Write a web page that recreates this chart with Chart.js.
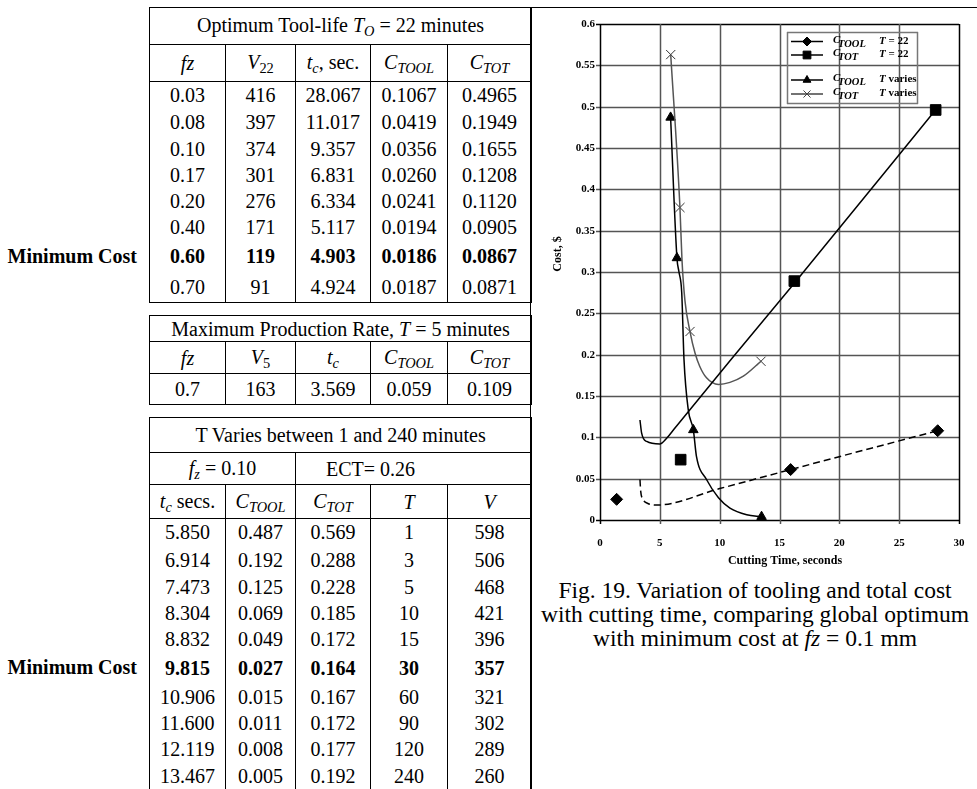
<!DOCTYPE html>
<html>
<head>
<meta charset="utf-8">
<title>Fig. 19 - tooling and total cost vs cutting time</title>
<script src="https://cdn.jsdelivr.net/npm/chart.js@4.4.1/dist/chart.umd.min.js"></script>
<style>
  html { margin: 0; padding: 0; width: 977px; height: 789px; overflow: hidden; background: #fff; }
  body { margin: 0; padding: 0; position: relative; width: 977px; height: 789px; overflow: hidden;
         font-family: "Liberation Serif", "Times New Roman", serif; color: #000; background: #fff; }
  .frame { position: absolute; left: 530px; top: 7px; width: 447px; height: 782px;
           border-top: 1px solid #000; border-left: 1px solid #000; box-sizing: border-box; }
  table.data { position: absolute; left: 149px; width: 382px; border-collapse: collapse;
               table-layout: fixed; font-size: 20px; border: 1px solid #000; }
  table.data td { padding: 0; text-align: center; vertical-align: middle; white-space: nowrap;
                  line-height: 20px; border-left: 1px solid #000; border-right: 1px solid #000; }
  table.data tr.ruled td { border-bottom: 1px solid #000; }
  table.data tr.bold td { font-weight: bold; }
  .s { font-size: 0.72em; position: relative; top: 0.3em; }
  .mincost { position: absolute; left: 0; width: 137px; text-align: right; font-weight: bold;
             font-size: 20px; line-height: 20px; }
  #chartBox { position: absolute; left: 531px; top: 8px; width: 446px; height: 560px; z-index: 5; }
  .caption { position: absolute; left: 533px; width: 444px; top: 578px; text-align: center;
             font-size: 23.5px; line-height: 24px; white-space: nowrap; }
</style>
</head>
<body>

<div class="frame"></div>
<div id="chartBox"><canvas id="costChart" width="446" height="560"></canvas></div>

<table class="data" id="t1" style="top:7px"></table>
<table class="data" id="t2" style="top:315px"></table>
<table class="data" id="t3" style="top:417px; border-bottom:none"></table>

<div class="mincost" style="top:246px">Minimum Cost</div>
<div class="mincost" style="top:657px">Minimum Cost</div>

<div class="caption">Fig. 19. Variation of tooling and total cost<br>with cutting time, comparing global optimum<br>with minimum cost at <i>fz</i> = 0.1 mm</div>

<script>
// ---------- Table data ----------
var t1Fz    = ['0.03', '0.08', '0.10', '0.17', '0.20', '0.40', '0.60', '0.70'];
var t1V     = ['416', '397', '374', '301', '276', '171', '119', '91'];
var t1Tc    = ['28.067', '11.017', '9.357', '6.831', '6.334', '5.117', '4.903', '4.924'];
var t1Ctool = ['0.1067', '0.0419', '0.0356', '0.0260', '0.0241', '0.0194', '0.0186', '0.0187'];
var t1Ctot  = ['0.4965', '0.1949', '0.1655', '0.1208', '0.1120', '0.0905', '0.0867', '0.0871'];

var t2Row = ['0.7', '163', '3.569', '0.059', '0.109'];

var t3Tc    = ['5.850', '6.914', '7.473', '8.304', '8.832', '9.815', '10.906', '11.600', '12.119', '13.467'];
var t3Ctool = ['0.487', '0.192', '0.125', '0.069', '0.049', '0.027', '0.015', '0.011', '0.008', '0.005'];
var t3Ctot  = ['0.569', '0.288', '0.228', '0.185', '0.172', '0.164', '0.167', '0.172', '0.177', '0.192'];
var t3T     = ['1', '3', '5', '10', '15', '30', '60', '90', '120', '240'];
var t3V     = ['598', '506', '468', '421', '396', '357', '321', '302', '289', '260'];

// ---------- Chart data ----------
var xTicks = [0, 5, 10, 15, 20, 25, 30];
var xTickLabels = ['0', '5', '10', '15', '20', '25', '30'];
var yTicks = [0, 0.05, 0.1, 0.15, 0.2, 0.25, 0.3, 0.35, 0.4, 0.45, 0.5, 0.55, 0.6];
var yTickLabels = ['0', '0.05', '0.1', '0.15', '0.2', '0.25', '0.3', '0.35', '0.4', '0.45', '0.5', '0.55', '0.6'];

// C_TOOL, T = 22 : dashed curve + diamonds
var tool22CurveT = [3.34, 3.40, 3.60, 4.00, 4.70, 10.0, 15.93, 28.2];
var tool22CurveC = [0.049, 0.035, 0.025, 0.020, 0.018, 0.038, 0.061, 0.108];
var tool22MarkT  = [1.39, 15.93, 28.22];
var tool22MarkC  = [0.025, 0.061, 0.108];

// C_TOT, T = 22 : solid curve + squares
var tot22CurveT = [3.34, 3.48, 3.90, 5.00, 5.57, 6.30, 11.0, 16.1, 28.07];
var tot22CurveC = [0.121, 0.105, 0.095, 0.092, 0.099, 0.112, 0.195, 0.284, 0.4965];
var tot22MarkT  = [6.74, 16.24, 28.05];
var tot22MarkC  = [0.073, 0.289, 0.496];

// C_TOOL, T varies : solid curve + triangles
var toolVarCurveT = [5.90, 6.43, 6.60, 6.83, 7.02, 7.38, 7.80, 8.06, 8.90, 9.90, 10.86, 12.26, 13.5];
var toolVarCurveC = [0.487, 0.317, 0.300, 0.275, 0.194, 0.133, 0.109, 0.077, 0.049, 0.027, 0.0145, 0.0064, 0.004];
var toolVarMarkT  = [5.90, 6.43, 7.80, 13.5];
var toolVarMarkC  = [0.487, 0.317, 0.109, 0.004];

// C_TOT, T varies : grey curve + crosses
var totVarCurveT = [5.91, 6.68, 6.85, 7.10, 7.52, 7.94, 8.33, 8.90, 9.90, 10.86, 11.98, 13.45];
var totVarCurveC = [0.563, 0.378, 0.315, 0.265, 0.228, 0.202, 0.186, 0.172, 0.164, 0.1665, 0.174, 0.192];
var totVarMarkT  = [5.91, 6.68, 7.52, 13.45];
var totVarMarkC  = [0.563, 0.378, 0.228, 0.192];

// ---------- Chart ----------
var SERIF = '"Liberation Serif", "Times New Roman", serif';

function pts(xs, ys) {
  return xs.map(function (x, i) { return { x: x, y: ys[i] }; });
}

function curve(xs, ys, color, dash) {
  return {
    data: pts(xs, ys), borderColor: color, borderWidth: 1.5, borderDash: dash || [],
    pointRadius: 0, cubicInterpolationMode: 'monotone', fill: false
  };
}

function marks(xs, ys, style, r, fillColor, lineColor) {
  return {
    data: pts(xs, ys), showLine: false, fill: false, pointStyle: style, pointRadius: r,
    pointBackgroundColor: fillColor, pointBorderColor: lineColor, pointBorderWidth: 1
  };
}

// stroked rule, 1.5px so it keeps its weight in the photo
function rule(ctx, x1, y1, x2, y2, color) {
  ctx.strokeStyle = color;
  ctx.lineWidth = 1.5;
  ctx.beginPath();
  ctx.moveTo(x1, y1);
  ctx.lineTo(x2, y2);
  ctx.stroke();
}

var legendRows = [
  { y: 33.5, style: 'rectRot', r: 4.5, color: '#000', sub: 'TOOL', note: ' = 22' },
  { y: 47,   style: 'rect',    r: 5.5, color: '#000', sub: 'TOT',  note: ' = 22' },
  { y: 72,   style: 'triangle', r: 4.5, color: '#000', sub: 'TOOL', note: ' varies' },
  { y: 86,   style: 'crossRot', r: 5,  color: '#444', sub: 'TOT',  note: ' varies' }
];

function drawLegend(ctx) {
  rule(ctx, 256, 24.5, 387, 24.5, '#777');
  rule(ctx, 256, 95.5, 387, 95.5, '#777');
  rule(ctx, 256.5, 24, 256.5, 96, '#777');
  rule(ctx, 386.5, 24, 386.5, 96, '#777');
  legendRows.forEach(function (row) {
    ctx.strokeStyle = row.color;
    ctx.fillStyle = row.color;
    ctx.lineWidth = 1.5;
    ctx.beginPath();
    ctx.moveTo(260, row.y);
    ctx.lineTo(292, row.y);
    ctx.stroke();
    ctx.lineWidth = 1;
    Chart.helpers.drawPoint(ctx, { pointStyle: row.style, radius: row.r, rotation: 0, borderWidth: 1 }, 276, row.y);

    ctx.fillStyle = '#000';
    ctx.textAlign = 'left';
    ctx.textBaseline = 'alphabetic';
    ctx.font = 'italic bold 11px ' + SERIF;
    ctx.fillText('C', 302, row.y + 1);
    ctx.font = 'italic bold 10.5px ' + SERIF;
    ctx.fillText(row.sub, 307, row.y + 5);
    ctx.font = 'italic bold 11px ' + SERIF;
    ctx.fillText('T', 348, row.y + 2);
    var w = ctx.measureText('T').width;
    ctx.font = 'bold 11px ' + SERIF;
    ctx.fillText(row.note, 348 + w, row.y + 2);
  });
}

// grid, plot frame, legend and axis titles
var overlay = {
  id: 'overlay',
  beforeDatasetsDraw: function (chart) {
    var ctx = chart.ctx, a = chart.chartArea;
    var sx = chart.scales.x, sy = chart.scales.y;
    ctx.save();
    yTicks.forEach(function (v) {
      var y = Math.round(sy.getPixelForValue(v)) + 0.5;
      rule(ctx, a.left - 4, y, a.right, y, (v === 0 || v === 0.6) ? '#000' : '#555');
    });
    xTicks.forEach(function (v) {
      var x = Math.round(sx.getPixelForValue(v)) + 0.5;
      rule(ctx, x, a.top, x, a.bottom + 4, (v === 0 || v === 30) ? '#000' : '#555');
    });
    ctx.restore();
  },
  afterDraw: function (chart) {
    var ctx = chart.ctx;
    ctx.save();
    drawLegend(ctx);

    ctx.fillStyle = '#000';
    ctx.font = 'bold 12px ' + SERIF;
    ctx.textAlign = 'center';
    ctx.textBaseline = 'middle';
    ctx.fillText('Cutting Time, seconds', 254, 553);

    ctx.translate(27, 246);
    ctx.rotate(-Math.PI / 2);
    ctx.fillText('Cost, $', 0, 0);
    ctx.restore();
  }
};

new Chart(document.getElementById('costChart'), {
  type: 'line',
  data: {
    datasets: [
      curve(tool22CurveT, tool22CurveC, '#000', [7, 4]),
      curve(tot22CurveT, tot22CurveC, '#000'),
      curve(toolVarCurveT, toolVarCurveC, '#000'),
      curve(totVarCurveT, totVarCurveC, '#555'),
      marks(tool22MarkT, tool22MarkC, 'rectRot', 6, '#000', '#000'),
      marks(tot22MarkT, tot22MarkC, 'rect', 7.5, '#000', '#000'),
      marks(toolVarMarkT, toolVarMarkC, 'triangle', 5.5, '#000', '#000'),
      marks(totVarMarkT, totVarMarkC, 'crossRot', 6.5, '#333', '#333')
    ]
  },
  options: {
    responsive: false,
    animation: false,
    layout: { padding: { top: 16, right: 18, left: 0, bottom: 0 } },
    plugins: { legend: { display: false }, tooltip: { enabled: false } },
    scales: {
      x: {
        type: 'linear', min: 0, max: 30,
        afterBuildTicks: function (s) { s.ticks = xTicks.map(function (v) { return { value: v }; }); },
        afterFit: function (s) { s.height = 48; },
        grid: { display: false },
        border: { display: false },
        ticks: {
          color: '#000', padding: 9, maxRotation: 0, autoSkip: false,
          font: { family: SERIF, size: 11, weight: 'bold' },
          callback: function (v) { return xTickLabels[xTicks.indexOf(v)]; }
        }
      },
      y: {
        type: 'linear', min: 0, max: 0.6,
        afterBuildTicks: function (s) { s.ticks = yTicks.map(function (v) { return { value: v }; }); },
        afterFit: function (s) { s.width = 69; },
        grid: { display: false },
        border: { display: false },
        ticks: {
          color: '#000', padding: -3, autoSkip: false,
          font: { family: SERIF, size: 11, weight: 'bold' },
          callback: function (v) { return yTickLabels[yTicks.indexOf(v)]; }
        }
      }
    }
  },
  plugins: [overlay]
});

// ---------- Tables ----------
function sub(base, s, italicSub) {
  return '<i>' + base + '</i><span class="s">' + (italicSub ? '<i>' + s + '</i>' : s) + '</span>';
}

function colgroup() {
  return '<colgroup><col style="width:76px"><col style="width:70px"><col style="width:75px">' +
         '<col style="width:77px"><col style="width:84px"></colgroup>';
}

function dataRows(cols, heights, boldIdx) {
  var html = '';
  for (var r = 0; r < heights.length; r++) {
    html += '<tr' + (r === boldIdx ? ' class="bold"' : '') + ' style="height:' + heights[r] + 'px">';
    cols.forEach(function (c) { html += '<td>' + c[r] + '</td>'; });
    html += '</tr>';
  }
  return html;
}

function headerRow(labels, h) {
  return '<tr class="ruled" style="height:' + h + 'px">' +
    labels.map(function (l) { return '<td>' + l + '</td>'; }).join('') + '</tr>';
}

document.getElementById('t1').innerHTML =
  colgroup() +
  '<tr class="ruled" style="height:37px"><td colspan="5">Optimum Tool-life ' + sub('T', 'O', true) + ' = 22 minutes</td></tr>' +
  headerRow(['<i>fz</i>', sub('V', '22'), sub('t', 'c', true) + ', sec.', sub('C', 'TOOL', true), sub('C', 'TOT', true)], 37) +
  dataRows([t1Fz, t1V, t1Tc, t1Ctool, t1Ctot], [27, 27, 26, 26, 26, 27, 31, 31], 6);

document.getElementById('t2').innerHTML =
  colgroup() +
  '<tr class="ruled" style="height:26px"><td colspan="5">Maximum Production Rate, <i>T</i> = 5 minutes</td></tr>' +
  headerRow(['<i>fz</i>', sub('V', '5'), sub('t', 'c', true), sub('C', 'TOOL', true), sub('C', 'TOT', true)], 32) +
  '<tr style="height:31px">' + t2Row.map(function (v) { return '<td>' + v + '</td>'; }).join('') + '</tr>';

document.getElementById('t3').innerHTML =
  colgroup() +
  '<tr class="ruled" style="height:35px"><td colspan="5">T Varies between 1 and 240 minutes</td></tr>' +
  '<tr class="ruled" style="height:32px"><td colspan="2">' + sub('f', 'z', true) + ' = 0.10</td>' +
  '<td colspan="3" style="text-align:left;padding-left:30px">ECT= 0.26</td></tr>' +
  headerRow([sub('t', 'c', true) + ' secs.', sub('C', 'TOOL', true), sub('C', 'TOT', true), '<i>T</i>', '<i>V</i>'], 34) +
  dataRows([t3Tc, t3Ctool, t3Ctot, t3T, t3V], [27, 28, 26, 26, 27, 30, 28, 25, 27, 26], 5);
</script>
</body>
</html>
